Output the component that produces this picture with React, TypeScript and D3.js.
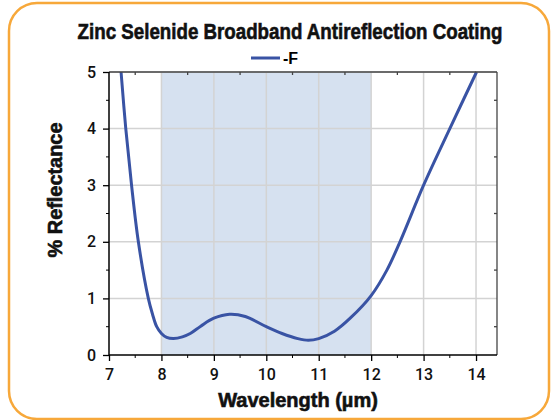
import { useEffect, useRef } from "react";
import * as d3 from "d3";

// reflectance curve for the -F coating
const wavelength = [7.23, 7.32, 7.43, 7.56, 7.75, 7.83, 7.91, 8.0, 8.1, 8.23, 8.4, 8.55, 8.75, 9.0, 9.3, 9.6, 10.0, 10.3, 10.6, 10.8, 11.0, 11.3, 11.6, 12.0, 12.3, 12.55, 13.0, 13.5, 14.01];
const reflectance = [5.0, 4.0, 3.0, 2.0, 1.0, 0.72, 0.5, 0.38, 0.31, 0.29, 0.32, 0.38, 0.51, 0.65, 0.72, 0.68, 0.5, 0.38, 0.29, 0.26, 0.29, 0.42, 0.65, 1.05, 1.5, 2.0, 3.0, 4.0, 5.0];
const bandRange = [8, 12];
const xTicks = [7, 8, 9, 10, 11, 12, 13, 14];
const yTicks = [0, 1, 2, 3, 4, 5];
const seriesName = "-F";
const title = "Zinc Selenide Broadband Antireflection Coating";

export default function App() {
  const ref = useRef<SVGSVGElement>(null);

  useEffect(() => {
    const svg = d3.select(ref.current);
    svg.selectAll("*").remove();

    const left = 109;
    const right = 497;
    const top = 72;
    const bottom = 355;
    const font = "'Liberation Sans', Arial, sans-serif";

    const x = d3.scaleLinear().domain([7, 14.4]).range([left, right]);
    const y = d3.scaleLinear().domain([0, 5]).range([bottom, top]);

    // orange rounded frame
    svg
      .append("rect")
      .attr("x", 9)
      .attr("y", 3)
      .attr("width", 540)
      .attr("height", 416)
      .attr("rx", 28)
      .attr("fill", "#fff")
      .attr("stroke", "#f7a83a")
      .attr("stroke-width", 2.5);

    // shaded design band
    svg
      .append("rect")
      .attr("x", x(bandRange[0]))
      .attr("y", top)
      .attr("width", x(bandRange[1]) - x(bandRange[0]))
      .attr("height", bottom - top)
      .attr("fill", "#d6e1f0");

    // grid
    const grid = svg.append("g").attr("stroke", "#d3d3d3").attr("stroke-width", 1.5);
    xTicks.slice(1).forEach((t) => {
      grid.append("line").attr("x1", x(t)).attr("x2", x(t)).attr("y1", top).attr("y2", bottom);
    });
    yTicks.slice(1).forEach((t) => {
      grid.append("line").attr("x1", left).attr("x2", right).attr("y1", y(t)).attr("y2", y(t));
    });

    // curve
    const line = d3
      .line<number>()
      .x((d, i) => x(wavelength[i]))
      .y((d) => y(d))
      .curve(d3.curveCatmullRom.alpha(0.5));
    svg
      .append("path")
      .datum(reflectance)
      .attr("fill", "none")
      .attr("stroke", "#3953a4")
      .attr("stroke-width", 3)
      .attr("d", line);

    const minorX = d3.range(7.5, 14.4, 1);
    const minorY = d3.range(0.5, 5, 1);

    // top and right frame with inward minor ticks
    const frame = svg.append("g").attr("stroke", "#444").attr("stroke-width", 1.3);
    frame.append("line").attr("x1", left).attr("x2", right).attr("y1", top).attr("y2", top);
    frame.append("line").attr("x1", right).attr("x2", right).attr("y1", top).attr("y2", bottom);
    minorX.forEach((t) => {
      frame.append("line").attr("x1", x(t)).attr("x2", x(t)).attr("y1", top).attr("y2", top + 3);
    });
    minorY.forEach((t) => {
      frame.append("line").attr("x1", right).attr("x2", right - 3).attr("y1", y(t)).attr("y2", y(t));
    });

    // bottom axis
    const xAxis = svg
      .append("g")
      .attr("transform", `translate(0,${bottom})`)
      .call(d3.axisBottom(x).tickValues(xTicks).tickSize(6).tickPadding(4).tickFormat(d3.format("d")));
    xAxis
      .append("g")
      .selectAll("line")
      .data(minorX)
      .join("line")
      .attr("x1", (d) => x(d))
      .attr("x2", (d) => x(d))
      .attr("y1", 0)
      .attr("y2", 3)
      .attr("stroke", "#000");

    // left axis
    const yAxis = svg
      .append("g")
      .attr("transform", `translate(${left},0)`)
      .call(d3.axisLeft(y).tickValues(yTicks).tickSize(6).tickPadding(7).tickFormat(d3.format("d")));
    yAxis
      .append("g")
      .selectAll("line")
      .data(minorY)
      .join("line")
      .attr("x1", 0)
      .attr("x2", -3)
      .attr("y1", (d) => y(d))
      .attr("y2", (d) => y(d))
      .attr("stroke", "#000");

    [xAxis, yAxis].forEach((a) => {
      a.select(".domain").attr("stroke", "#000").attr("stroke-width", 1.5);
      a.selectAll(".tick line").attr("stroke", "#000").attr("stroke-width", 1.3);
      a.selectAll(".tick text")
        .attr("fill", "#111")
        .style("font-family", "Roboto, sans-serif")
        .style("font-weight", 500)
        .style("font-size", "16px");
    });
    xAxis.selectAll(".tick text").attr("dy", "0.95em");
    xAxis.select(".domain").attr("d", `M${left},0H${right}`);
    yAxis.select(".domain").attr("d", `M0,${bottom}V${top}`);

    // condensed bold text: measure, then squeeze horizontally to the wanted width
    const squeezed = (txt: string, cx: number, cy: number, size: number, w: number, rot = 0) => {
      const g = svg.append("g");
      const t = g
        .append("text")
        .attr("text-anchor", "middle")
        .attr("fill", "#111")
        .attr("stroke", "#111")
        .attr("stroke-width", 0.6)
        .style("font-family", font)
        .style("font-weight", "bold")
        .style("font-size", `${size}px`)
        .text(txt);
      const natural = (t.node() as SVGTextElement).getComputedTextLength();
      const k = Math.min(1, w / natural);
      g.attr("transform", `translate(${cx},${cy}) rotate(${rot}) scale(${k},1)`);
    };

    squeezed(title, 290, 39, 22, 425);
    squeezed("Wavelength (µm)", 298, 407, 20, 160);
    squeezed("% Reflectance", 62, 190, 20, 135, -90);

    // legend
    svg
      .append("line")
      .attr("x1", 251)
      .attr("x2", 280)
      .attr("y1", 58)
      .attr("y2", 58)
      .attr("stroke", "#3953a4")
      .attr("stroke-width", 3);
    svg
      .append("text")
      .attr("x", 283)
      .attr("y", 64)
      .style("font-family", font)
      .style("font-weight", "bold")
      .style("font-size", "16px")
      .text(seriesName);
  }, []);

  return (
    <svg
      ref={ref}
      width={551}
      height={420}
      style={{ position: "absolute", left: 0, top: 0 }}
    />
  );
}
